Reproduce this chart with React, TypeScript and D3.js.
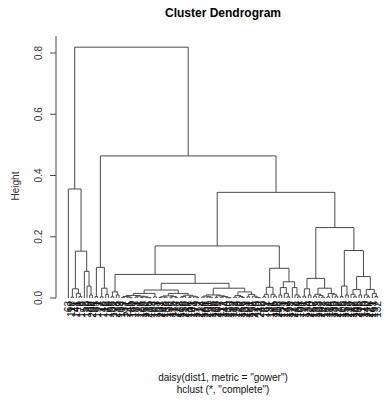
// Cluster dendrogram (hclust, complete linkage) drawn with d3 scales
import React from 'react'
import * as d3 from 'd3'

// a node is a leaf label, or [merge height, left, right]
type Node = string | [number, Node, Node]

const groupA: Node = [0.356, '63', [0.153,
  [0.03, [0.003, '118', '27'], [0.015, '141', [0.005, '9', '176']]],
  [0.087, '52', [0.039, '130', [0.01, '88', '204']]]]]

const groupB: Node = [0.1, [0.005, '35', '191'], [0.032, [0.004, '77', '146'], [0.012, '12', '169']]]

const groupC1: Node = [0.02, [0.004, '58', '102'], [0.01, '233', '19']]

const groupC2a1: Node = [0.015,
  [0.008,
    [0.005, [0.002, '104', '137'], [0.003, '211', [0.001, '45', '160']]],
    [0.006, [0.003, '183', '71'], [0.004, [0.002, '126', '198'], [0.002, '152', [0.001, '215', '109']]]]],
  [0.004, '84', '163']]

const groupC2a2: Node = [0.015,
  [0.007, [0.004, [0.002, '121', '207'], [0.003, '148', '133']], [0.005, [0.001, '196', '115'], [0.002, '174', '227']]],
  [0.009, [0.005, [0.003, '138', '158'], '219'], [0.006, [0.002, '186', '101'], [0.004, '143', [0.001, '179', '212']]]]]

const groupC2b1: Node = [0.01,
  [0.006, [0.003, '124', '166'], [0.004, '201', [0.002, '150', '135']]],
  [0.007, [0.002, '188', '209'], [0.005, [0.003, '117', '172'], [0.001, '144', [0.001, '230', '155']]]]]

const groupC2b2: Node = [0.02,
  [0.008, [0.003, '112', '193'], [0.005, '128', [0.002, '167', '139']]],
  [0.012, [0.004, '203', '181'], [0.006, '156', [0.002, '224', [0.001, '110', '242']]]]]

const groupD: Node = [0.097,
  [0.035, [0.012, [0.004, '40', '162'], '97'], [0.012, '131', [0.006, '185', '119']]],
  [0.053, [0.034, [0.01, '206', '153'], [0.015, '171', [0.004, '142', '199']]], [0.034, '127', [0.01, '218', [0.004, '164', '108']]]]]

const groupE: Node = [0.23,
  [0.064,
    [0.03, [0.006, '91', '175'], [0.01, '134', '220']],
    [0.032,
      [0.012, [0.006, '157', '189'], [0.008, '123', [0.003, '202', '147']]],
      [0.015, [0.004, '168', '114'], [0.012, '195', [0.006, '136', '222']]]]],
  [0.155,
    [0.039, [0.005, '178', '105'], [0.01, '159', '213']],
    [0.07,
      [0.028, [0.012, '129', [0.004, '187', '149']], [0.01, '205', '116']],
      [0.028, [0.01, '170', [0.004, '140', '226']], [0.015, '161', [0.005, '197', '132']]]]]]

const groupC: Node = [0.077, groupC1, [0.048, [0.026, groupC2a1, groupC2a2], [0.032, groupC2b1, groupC2b2]]]

const tree: Node = [0.819, groupA, [0.464, groupB, [0.345, [0.17, groupC, groupD], groupE]]]

const heightTicks = [0, 0.2, 0.4, 0.6, 0.8]

const W = 391
const H = 402
const plotLeft = 56
const plotRight = 390
const plotTop = 36
const FONT = "'Liberation Sans', Arial, Helvetica, sans-serif"

export default function App() {
  const root = d3.hierarchy<Node>(tree, (d) => (typeof d === 'string' ? null : [d[1], d[2]]))
  const leaves = root.leaves()
  const n = leaves.length

  // same padding as R: 4% of the range on each side
  const x = d3
    .scaleLinear()
    .domain([-0.04 * (n - 1), (n - 1) * 1.04])
    .range([plotLeft, plotRight])
  const y = d3.scaleLinear().domain([0, 0.8]).range([298, 53])

  const xPos = new Map<any, number>()
  leaves.forEach((l, i) => xPos.set(l, x(i)))
  root.eachAfter((node) => {
    if (node.children) {
      xPos.set(node, (xPos.get(node.children[0])! + xPos.get(node.children[1])!) / 2)
    }
  })
  const hOf = (node: d3.HierarchyNode<Node>) => (typeof node.data === 'string' ? 0 : node.data[0])

  const links: string[] = []
  root.each((node) => {
    if (!node.children) return
    const [a, b] = node.children
    const path = d3.path()
    path.moveTo(xPos.get(a)!, y(hOf(a)))
    path.lineTo(xPos.get(a)!, y(hOf(node)))
    path.lineTo(xPos.get(b)!, y(hOf(node)))
    path.lineTo(xPos.get(b)!, y(hOf(b)))
    links.push(path.toString())
  })

  const stroke = '#4a4a4a'

  return (
    <svg width={W} height={H} style={{ position: 'absolute', left: 0, top: 0, background: '#fff' }} fontFamily={FONT}>
      <text x={223} y={17} textAnchor="middle" fontSize={12} fontWeight="bold" fill="#000">
        Cluster Dendrogram
      </text>

      {/* y axis */}
      <line x1={plotLeft} x2={plotLeft} y1={plotTop} y2={y(0)} stroke={stroke} />
      {heightTicks.map((t) => (
        <g key={t} transform={`translate(${plotLeft},${y(t)})`}>
          <line x1={-6} x2={0} stroke={stroke} />
          <text transform="translate(-14,0) rotate(-90)" textAnchor="middle" fontSize={10} fill="#333">
            {d3.format('.1f')(t)}
          </text>
        </g>
      ))}
      <text transform={`translate(19,${(plotTop + 308) / 2 + 14}) rotate(-90)`} textAnchor="middle" fontSize={10} fill="#333">
        Height
      </text>

      {/* tree */}
      <g fill="none" stroke={stroke} strokeWidth={1}>
        {links.map((d, i) => (
          <path key={i} d={d} />
        ))}
      </g>

      {/* leaf labels */}
      {leaves.map((l, i) => (
        <text
          key={i}
          transform={`translate(${xPos.get(l)},301) rotate(-90)`}
          dy="0.35em"
          textAnchor="end"
          fontSize={10}
          fill="#111"
        >
          {l.data as string}
        </text>
      ))}

      <text x={223} y={381} textAnchor="middle" fontSize={10} fill="#111">
        daisy(dist1, metric = "gower")
      </text>
      <text x={223} y={393} textAnchor="middle" fontSize={10} fill="#111">
        hclust (*, "complete")
      </text>
    </svg>
  )
}
